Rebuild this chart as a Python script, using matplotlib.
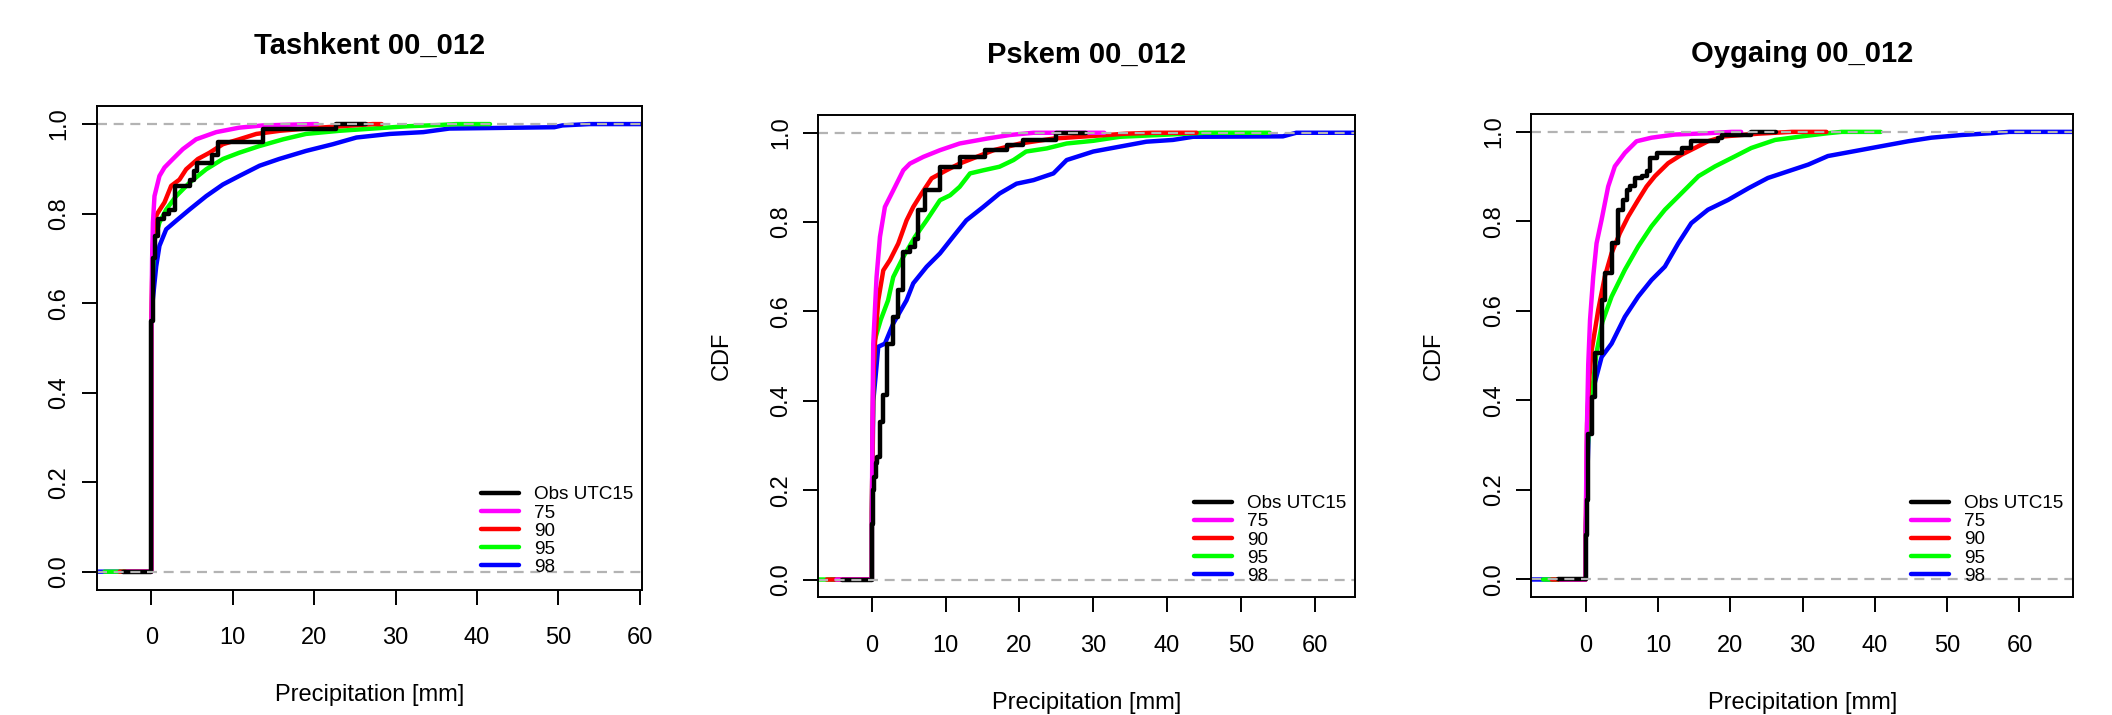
import matplotlib
matplotlib.use('Agg')
import matplotlib.pyplot as plt

plt.rcParams['font.family'] = ['Liberation Sans', 'DejaVu Sans']
plt.rcParams['lines.solid_capstyle'] = 'round'
plt.rcParams['lines.solid_joinstyle'] = 'round'

# ---- Tashkent: ECDF points (x in mm, y = CDF) ----
tash_obs_x = [-3.5, 0, 0.2, 0.4, 0.8, 1.5, 2.2, 2.9, 4.7, 5.2, 5.6, 7.4, 8.2, 13.7, 22.7, 26.4]
tash_obs_y = [0, 0.56, 0.70, 0.75, 0.787, 0.799, 0.808, 0.861, 0.876, 0.895, 0.914, 0.932, 0.959, 0.988, 1.0, 1.0]
tash_75_x = [-3.0, 0, 0, 0.1, 0.2, 0.39, 1.0, 1.62, 2.65, 3.87, 5.5, 7.97, 10.8, 13.7, 19.85, 20.4]
tash_75_y = [0, 0, 0.53, 0.70, 0.78, 0.839, 0.884, 0.903, 0.922, 0.944, 0.966, 0.982, 0.992, 0.997, 1.0, 1.0]
tash_90_x = [-3.9, 0, 0, 0.15, 0.25, 0.39, 0.8, 1.62, 2.44, 3.46, 4.28, 5.72, 7.15, 8.79, 10.8, 12.9, 15.8, 19.0, 23.1, 27.2, 28.3]
tash_90_y = [0, 0, 0.55, 0.70, 0.75, 0.787, 0.802, 0.825, 0.862, 0.876, 0.899, 0.922, 0.936, 0.955, 0.966, 0.978, 0.985, 0.990, 0.995, 1.0, 1.0]
tash_95_x = [-5.75, 0, 0, 0.15, 0.39, 1.0, 1.83, 3.05, 4.69, 6.74, 8.79, 10.8, 13.3, 16.2, 19.0, 23.1, 27.2, 31.3, 35.4, 37.5, 41.6]
tash_95_y = [0, 0, 0.54, 0.65, 0.742, 0.780, 0.809, 0.839, 0.869, 0.899, 0.922, 0.936, 0.951, 0.966, 0.978, 0.985, 0.990, 0.995, 0.998, 1.0, 1.0]
tash_98_x = [-8.0, 0, 0, 0.1, 0.19, 0.6, 1.0, 1.83, 3.05, 4.69, 6.74, 8.79, 10.8, 13.3, 15.7, 19.0, 22.3, 25.2, 29.3, 33.4, 36.6, 49.5, 50.5, 53.8, 62.0]
tash_98_y = [0, 0, 0.54, 0.58, 0.609, 0.682, 0.728, 0.765, 0.784, 0.809, 0.839, 0.865, 0.884, 0.907, 0.922, 0.940, 0.955, 0.970, 0.978, 0.982, 0.990, 0.993, 0.997, 1.0, 1.0]

# ---- Pskem ----
psk_obs_x = [-4.1, 0, 0.2, 0.3, 0.5, 0.65, 1.1, 1.54, 2.09, 2.9, 3.58, 4.26, 5.16, 5.84, 6.29, 7.2, 9.2, 11.9, 15.3, 18.3, 20.5, 25.0, 29.0]
psk_obs_y = [0, 0.125, 0.20, 0.23, 0.26, 0.274, 0.353, 0.413, 0.528, 0.588, 0.648, 0.733, 0.745, 0.763, 0.827, 0.871, 0.924, 0.946, 0.961, 0.972, 0.983, 1.0, 1.0]
psk_75_x = [-4.8, 0, 0, 0.1, 0.19, 0.64, 1.1, 1.77, 2.9, 4.26, 5.16, 6.97, 9.23, 11.9, 15.6, 18.7, 21.9, 31.5]
psk_75_y = [0, 0, 0.13, 0.38, 0.528, 0.677, 0.767, 0.834, 0.871, 0.916, 0.931, 0.946, 0.961, 0.976, 0.987, 0.995, 1.0, 1.0]
psk_90_x = [-6.1, 0, 0, 0.2, 0.42, 0.87, 1.55, 2.45, 3.58, 4.71, 5.61, 6.74, 8.1, 10.1, 11.9, 14.2, 16.5, 20.1, 24.6, 30.0, 34.5, 38.0, 44.0]
psk_90_y = [0, 0, 0.15, 0.45, 0.528, 0.625, 0.692, 0.715, 0.752, 0.804, 0.834, 0.864, 0.898, 0.916, 0.931, 0.946, 0.961, 0.976, 0.987, 0.993, 0.998, 1.0, 1.0]
psk_95_x = [-8.0, 0, 0, 0.2, 0.4, 1.2, 2.2, 2.9, 4.26, 5.84, 7.42, 9.23, 10.6, 11.9, 13.3, 15.1, 17.3, 19.2, 20.9, 23.7, 26.4, 30.0, 33.6, 39.0, 45.0, 53.9]
psk_95_y = [0, 0, 0.15, 0.45, 0.536, 0.581, 0.625, 0.677, 0.722, 0.767, 0.804, 0.849, 0.860, 0.879, 0.909, 0.916, 0.924, 0.939, 0.958, 0.965, 0.976, 0.982, 0.991, 0.995, 1.0, 1.0]
psk_98_x = [-5.5, 0, 0, 0.2, 0.5, 0.87, 1.77, 2.9, 4.7, 5.61, 7.42, 9.23, 11.0, 12.8, 15.1, 17.3, 19.6, 21.9, 24.6, 26.4, 30.0, 33.6, 37.2, 40.8, 43.5, 55.7, 57.5, 70.0]
psk_98_y = [0, 0, 0.12, 0.40, 0.453, 0.521, 0.528, 0.573, 0.625, 0.663, 0.700, 0.730, 0.767, 0.804, 0.834, 0.864, 0.886, 0.894, 0.909, 0.939, 0.958, 0.969, 0.980, 0.984, 0.991, 0.992, 1.0, 1.0]

# ---- Oygaing ----
oyg_obs_x = [-3.8, 0, 0.12, 0.35, 0.81, 1.27, 2.2, 2.65, 3.58, 4.5, 5.19, 5.65, 6.11, 6.8, 7.72, 8.42, 8.88, 9.8, 13.25, 14.6, 18.3, 18.8, 22.9, 26.3]
oyg_obs_y = [0, 0.10, 0.177, 0.326, 0.408, 0.505, 0.625, 0.684, 0.751, 0.826, 0.848, 0.871, 0.878, 0.897, 0.901, 0.913, 0.942, 0.953, 0.964, 0.979, 0.987, 0.994, 1.0, 1.0]
oyg_75_x = [-3.5, 0, 0, 0.12, 0.35, 0.6, 1.04, 1.5, 2.2, 3.11, 4.03, 5.42, 7.03, 9.1, 12.3, 16.9, 20.2, 21.5]
oyg_75_y = [0, 0, 0.10, 0.30, 0.48, 0.58, 0.677, 0.751, 0.804, 0.878, 0.923, 0.953, 0.979, 0.987, 0.994, 0.997, 1.0, 1.0]
oyg_90_x = [-4.7, 0, 0, 0.2, 0.5, 0.81, 1.73, 2.65, 3.58, 4.73, 5.88, 7.26, 8.42, 9.57, 11.4, 13.25, 15.1, 16.9, 19.2, 23.9, 28.5, 33.3]
oyg_90_y = [0, 0, 0.10, 0.35, 0.45, 0.510, 0.602, 0.677, 0.729, 0.774, 0.811, 0.848, 0.878, 0.901, 0.930, 0.949, 0.964, 0.979, 0.990, 0.996, 1.0, 1.0]
oyg_95_x = [-5.9, 0, 0, 0.3, 0.6, 1.5, 2.3, 3.58, 5.42, 7.26, 9.1, 10.95, 13.25, 15.6, 17.9, 20.6, 22.9, 26.2, 29.9, 33.5, 35.4, 40.8]
oyg_95_y = [0, 0, 0.10, 0.30, 0.378, 0.507, 0.575, 0.632, 0.692, 0.744, 0.789, 0.826, 0.863, 0.901, 0.923, 0.945, 0.964, 0.982, 0.990, 0.997, 1.0, 1.0]
oyg_98_x = [-8.0, 0, 0, 0.4, 0.81, 1.27, 2.2, 3.58, 5.42, 7.26, 9.1, 10.95, 12.8, 14.6, 16.9, 19.7, 22.5, 25.2, 28.0, 30.8, 33.5, 37.2, 40.9, 44.6, 47.8, 52.0, 56.0, 58.6, 70.0]
oyg_98_y = [0, 0, 0.10, 0.33, 0.408, 0.44, 0.497, 0.527, 0.587, 0.632, 0.669, 0.699, 0.751, 0.796, 0.826, 0.848, 0.874, 0.897, 0.912, 0.927, 0.946, 0.957, 0.968, 0.979, 0.987, 0.993, 0.997, 1.0, 1.0]

labels = ['Obs UTC15', '75', '90', '95', '98']
colors = ['black', '#FF00FF', '#FF0000', '#00FF00', '#0000FF']
yticks = [0.0, 0.2, 0.4, 0.6, 0.8, 1.0]


def draw_panel(ax, obs, fcst, title, xlim, anchor, ylab=None):
    lines = {}
    # 98 first so the others (and the obs) sit on top of it
    for (x, y), col, lab in reversed(list(zip(fcst, colors[1:], labels[1:]))):
        ln, = ax.plot(x, y, color=col, lw=3.2)
        lines[lab] = ln
    ln, = ax.plot(obs[0], obs[1], color='black', lw=3.2, drawstyle='steps-post')
    lines[labels[0]] = ln
    for h in (0, 1):
        ax.axhline(h, color='#B3B3B3', lw=1.6, ls=(0, (4.5, 3)))

    ax.set_xlim(*xlim)
    ax.set_ylim(-0.04, 1.04)
    ax.set_xticks(range(0, 61, 10))
    ax.set_yticks(yticks)
    ax.set_yticklabels(['%.1f' % v for v in yticks])
    ax.tick_params(axis='both', direction='out', length=11, width=1.4, labelsize=17)
    ax.tick_params(axis='x', pad=16)
    ax.tick_params(axis='y', pad=8, labelrotation=90)
    plt.setp(ax.get_yticklabels(), va='center')
    for sp in ax.spines.values():
        sp.set_linewidth(1.4)

    ax.set_title(title, fontsize=21, fontweight='bold', y=1.125, pad=0, va='center')
    ax.set_xlabel('Precipitation [mm]', fontsize=17)
    ax.xaxis.set_label_coords(0.5, -0.218)
    ax.xaxis.label.set_va('center')
    if ylab:
        ax.set_ylabel(ylab, fontsize=17)
        ax.yaxis.set_label_coords(-0.181, 0.5)
        ax.yaxis.label.set_va('center')

    ax.legend([lines[l] for l in labels], labels, loc='lower right', bbox_to_anchor=anchor,
              frameon=False, fontsize=13.6, handlelength=2.0, handletextpad=0.8,
              labelspacing=0.05, borderpad=0, borderaxespad=0)


fig = plt.figure(figsize=(21.12, 7.15), dpi=100)
ax1 = fig.add_axes([0.0457, 0.1754, 0.2583, 0.6761])
ax2 = fig.add_axes([0.3875, 0.1645, 0.2541, 0.6748])
ax3 = fig.add_axes([0.7251, 0.1645, 0.2566, 0.6761])

draw_panel(ax1, (tash_obs_x, tash_obs_y),
           [(tash_75_x, tash_75_y), (tash_90_x, tash_90_y), (tash_95_x, tash_95_y), (tash_98_x, tash_98_y)],
           'Tashkent 00_012', (-6.73, 60.28), (0.984, 0.028))
draw_panel(ax2, (psk_obs_x, psk_obs_y),
           [(psk_75_x, psk_75_y), (psk_90_x, psk_90_y), (psk_95_x, psk_95_y), (psk_98_x, psk_98_y)],
           'Pskem 00_012', (-7.24, 65.47), (0.983, 0.026), ylab='CDF')
draw_panel(ax3, (oyg_obs_x, oyg_obs_y),
           [(oyg_75_x, oyg_75_y), (oyg_90_x, oyg_90_y), (oyg_95_x, oyg_95_y), (oyg_98_x, oyg_98_y)],
           'Oygaing 00_012', (-7.51, 67.45), (0.982, 0.026), ylab='CDF')

fig.savefig('out.png', dpi=100)
